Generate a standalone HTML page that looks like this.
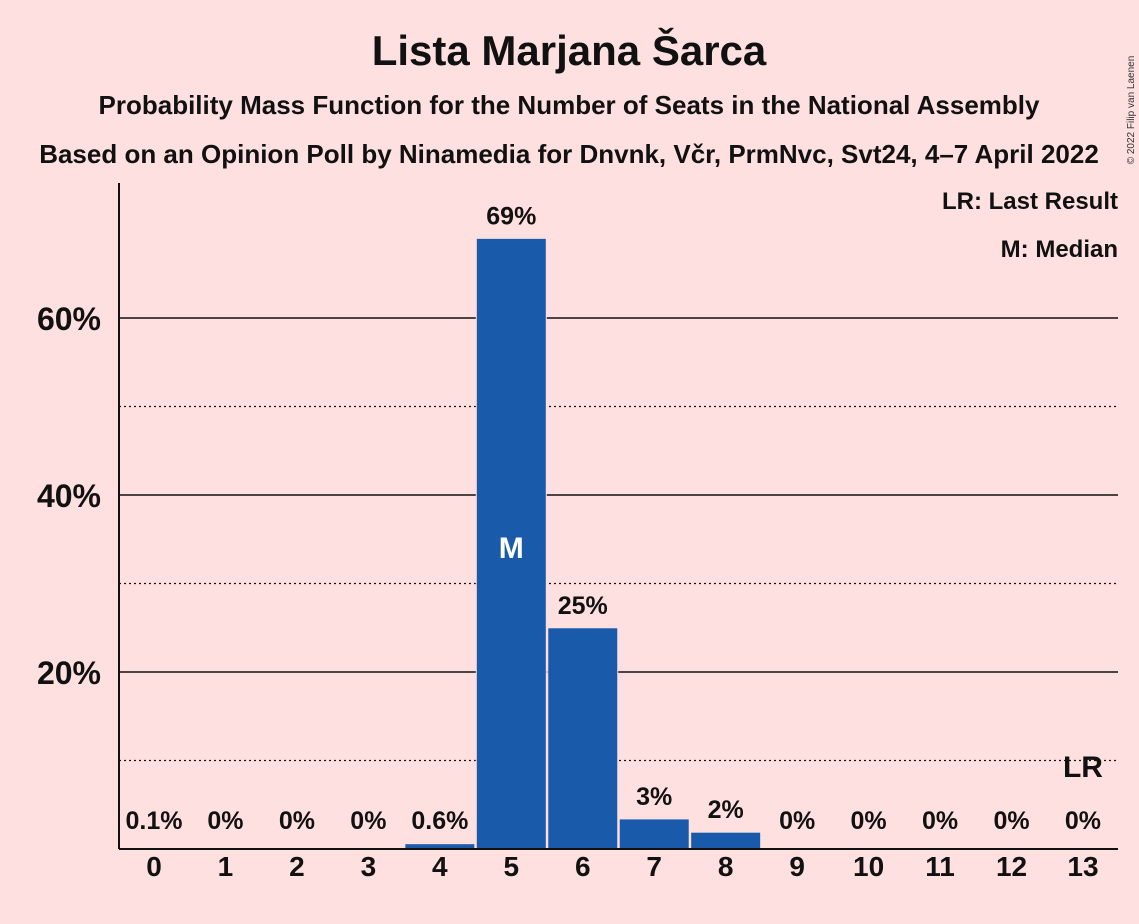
<!DOCTYPE html>
<html><head><meta charset="utf-8"><style>
html,body{margin:0;padding:0;background:#ffe0e0;}
svg{display:block;font-family:"Liberation Sans",sans-serif;}
</style></head><body>
<svg id="chart" width="1139" height="924">
<rect width="1139" height="924" fill="#ffe0e0"/>
<text x="569" y="65" text-anchor="middle" font-size="42" font-weight="bold" fill="#111">Lista Marjana Šarca</text>
<text x="569" y="114" text-anchor="middle" font-size="26" font-weight="bold" fill="#111">Probability Mass Function for the Number of Seats in the National Assembly</text>
<text x="569" y="163" text-anchor="middle" font-size="26" font-weight="bold" fill="#111">Based on an Opinion Poll by Ninamedia for Dnvnk, Včr, PrmNvc, Svt24, 4–7 April 2022</text>
<text x="1118" y="209" text-anchor="end" font-size="24" font-weight="bold" fill="#111">LR: Last Result</text>
<text x="1118" y="257" text-anchor="end" font-size="24" font-weight="bold" fill="#111">M: Median</text>
<text transform="translate(1134,110) rotate(-90)" text-anchor="middle" font-size="10" fill="#333">© 2022 Filip van Laenen</text>
<g id="grid"></g><g id="bars"></g><g id="labels"></g>
<line x1="119" y1="183" x2="119" y2="849" stroke="#111" stroke-width="2"/>
<line x1="119" y1="849" x2="1118" y2="849" stroke="#111" stroke-width="2"/>
</svg>
<script>
const categories=[0,1,2,3,4,5,6,7,8,9,10,11,12,13];
const values=[0.1,0,0,0,0.6,69,25,3.4,1.9,0,0,0,0,0];
const valueLabels=["0.1%","0%","0%","0%","0.6%","69%","25%","3%","2%","0%","0%","0%","0%","0%"];
const majorTicks=[20,40,60];
const minorTicks=[10,30,50];
const tickLabels=["20%","40%","60%"];
const medianSeat=5;
const lastResultSeat=13;
const NS="http://www.w3.org/2000/svg";
const y=v=>849-v*8.85;
const x=c=>154+c*71.46;
function mk(tag,attrs,parent){const e=document.createElementNS(NS,tag);for(const k in attrs)e.setAttribute(k,attrs[k]);parent.appendChild(e);return e;}
const grid=document.getElementById('grid'),bars=document.getElementById('bars'),labels=document.getElementById('labels');
minorTicks.forEach(t=>{const l=mk('line',{x1:119,x2:1118,y1:y(t),y2:y(t),stroke:'#111','stroke-width':1.2,'stroke-dasharray':'2,3'},grid);

});
majorTicks.forEach((t,i)=>{const l=mk('line',{x1:119,x2:1118,y1:y(t),y2:y(t),stroke:'#111','stroke-width':1.5},grid);


const tx=mk('text',{x:101,y:y(t)+12,'text-anchor':'end','font-size':32,'font-weight':'bold',fill:'#111'},labels);tx.textContent=tickLabels[i];

});
categories.forEach((c,i)=>{const v=values[i];
if(v>0){const r=mk('rect',{x:x(c)-35,y:y(v),width:70,height:849-y(v),fill:'#1a5aab',stroke:'#ffe0e0','stroke-width':1},bars);

}
const vl=mk('text',{x:x(c),y:Math.min(y(v),843)-14,'text-anchor':'middle','font-size':25,'font-weight':'bold',fill:'#111'},labels);vl.textContent=valueLabels[i];


const xl=mk('text',{x:x(c),y:876,'text-anchor':'middle','font-size':28,'font-weight':'bold',fill:'#111'},labels);xl.textContent=c;

});
const m=mk('text',{x:x(medianSeat),y:558,'text-anchor':'middle','font-size':30,'font-weight':'bold',fill:'#fff'},labels);m.textContent='M';


const lr=mk('text',{x:x(lastResultSeat),y:777,'text-anchor':'middle','font-size':30,'font-weight':'bold',fill:'#111'},labels);lr.textContent='LR';


</script>
</body></html>
